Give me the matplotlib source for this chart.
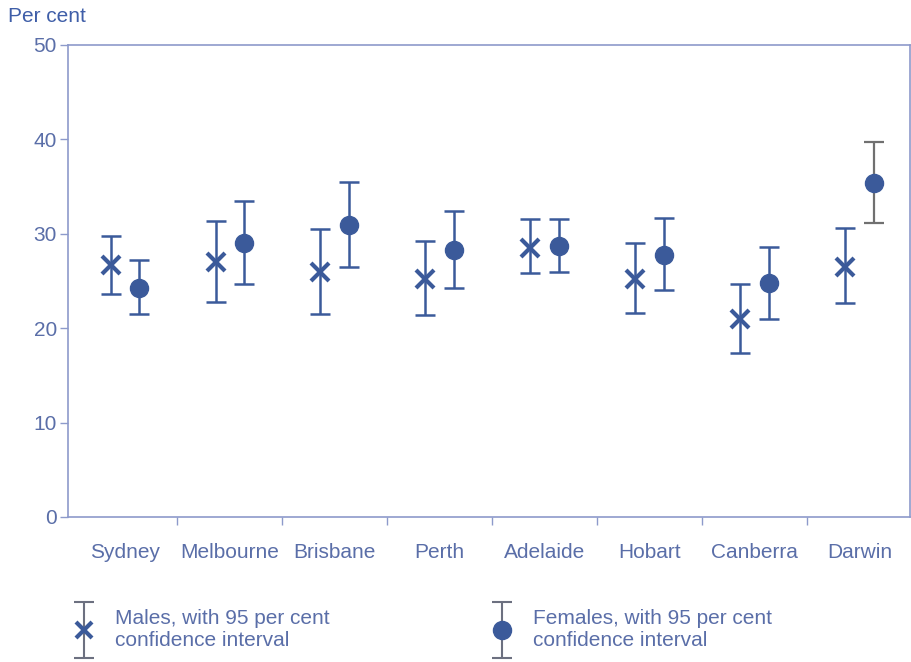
import matplotlib
matplotlib.use("Agg")
import matplotlib.pyplot as plt
import numpy as np
from matplotlib.legend_handler import HandlerErrorbar

plt.rcParams["font.family"] = ["Liberation Sans", "DejaVu Sans"]

# ── data ─────────────────────────────────────────────────────────────────────
cities = ["Sydney", "Melbourne", "Brisbane", "Perth",
          "Adelaide", "Hobart", "Canberra", "Darwin"]

male      = [26.7, 27.0, 26.0, 25.2, 28.5, 25.2, 21.0, 26.5]
male_lo   = [23.6, 22.8, 21.5, 21.4, 25.8, 21.6, 17.4, 22.7]
male_hi   = [29.8, 31.4, 30.5, 29.2, 31.6, 29.0, 24.7, 30.6]

female    = [24.3, 29.0, 30.9, 28.3, 28.7, 27.8, 24.8, 35.4]
female_lo = [21.5, 24.7, 26.5, 24.3, 26.0, 24.0, 21.0, 31.1]
female_hi = [27.2, 33.5, 35.5, 32.4, 31.6, 31.7, 28.6, 39.7]

# ── style ───────────────────────────────────────────────────────────────────
BLUE  = "#3b5a9a"
TEXT  = "#5a6ea8"
GREY  = "#707070"
LEG_GREY = "#6c7080"
SPINE = "#8d9acb"
FS    = 15

x = np.arange(len(cities))
off = 0.135

fig = plt.figure(figsize=(9.11, 6.62), dpi=100)
ax = fig.add_axes([68 / 911, 1 - 517 / 662, 842 / 911, 472 / 662])


def thin_caps(container, width):
    # the 'x' marker edge width leaks into the caps, so reset it
    for cap in container[1]:
        cap.set_markeredgewidth(width)


m = np.array(male)
merr = [m - np.array(male_lo), np.array(male_hi) - m]
h = ax.errorbar(x - off, m, yerr=merr, fmt="x", color=BLUE, ecolor=BLUE,
                markersize=13, markeredgewidth=3, elinewidth=1.8,
                capsize=7, capthick=1.8)
thin_caps(h, 1.8)

f = np.array(female)
ferr = np.array([f - np.array(female_lo), np.array(female_hi) - f])
grey_bar = np.array([c == "Darwin" for c in cities])
ax.errorbar(x[~grey_bar] + off, f[~grey_bar], yerr=ferr[:, ~grey_bar],
            fmt="o", color=BLUE, ecolor=BLUE, markersize=13,
            elinewidth=1.8, capsize=7, capthick=1.8)
ax.errorbar(x[grey_bar] + off, f[grey_bar], yerr=ferr[:, grey_bar],
            fmt="o", color=BLUE, ecolor=GREY, markersize=13,
            elinewidth=1.6, capsize=7, capthick=1.6)

# legend proxies (not visible in the axes): grey bars, blue markers
p_m = ax.errorbar([np.nan], [np.nan], yerr=[[1], [1]], fmt="x", color=BLUE,
                  ecolor=LEG_GREY, markersize=12, markeredgewidth=3,
                  elinewidth=1.5, capsize=7, capthick=1.5)
thin_caps(p_m, 1.5)
p_f = ax.errorbar([np.nan], [np.nan], yerr=[[1], [1]], fmt="o", color=BLUE,
                  ecolor=LEG_GREY, markersize=13, elinewidth=1.5,
                  capsize=7, capthick=1.5)

# ── axes ────────────────────────────────────────────────────────────────────
ax.set_xlim(-0.54, len(cities) - 0.52)
ax.set_ylim(0, 50)
ax.set_yticks(range(0, 51, 10))
ax.set_xticks(x)
ax.set_xticklabels(cities)
ax.set_xticks(x[:-1] + 0.5, minor=True)
ax.tick_params(axis="x", which="major", length=0, pad=19, labelsize=FS,
               labelcolor=TEXT)
ax.tick_params(axis="x", which="minor", length=6, direction="out",
               color=SPINE, width=1)
ax.tick_params(axis="y", length=6, direction="out", color=SPINE, width=1,
               labelsize=FS, labelcolor=TEXT, pad=2)
for s in ax.spines.values():
    s.set_color(SPINE)
    s.set_linewidth(1.2)

fig.text(8 / 911, 1 - 17 / 662, "Per cent", fontsize=FS, color="#3f5ea8",
         va="center", ha="left")

# ── legend ──────────────────────────────────────────────────────────────────
fig.legend([p_m, p_f],
           ["Males, with 95 per cent\nconfidence interval",
            "Females, with 95 per cent\nconfidence interval"],
           loc="center left", bbox_to_anchor=(55 / 911, 1 - 630 / 662),
           ncol=2, frameon=False, fontsize=FS, labelcolor=TEXT,
           handlelength=1.0, handletextpad=1.0, columnspacing=7.75,
           labelspacing=0.2,
           handler_map={type(p_m): HandlerErrorbar(xerr_size=1.35)})

fig.savefig("out.png", dpi=100)
